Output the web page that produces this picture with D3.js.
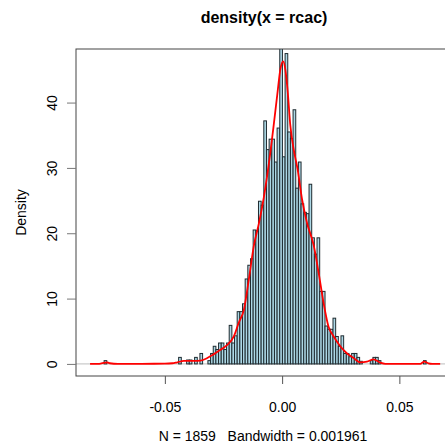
<!DOCTYPE html>
<html>
<head>
<meta charset="utf-8">
<script src="https://cdn.jsdelivr.net/npm/d3@7"></script>
<style>
  body { margin: 0; background: #fff; }
  svg { display: block; }
</style>
</head>
<body>
<div id="vis"></div>
<script>
// histogram: first break and bin width (from the picture), densities per bin
const BREAK_START = -0.07591;
const BIN_WIDTH = 0.001135;
const histDensity = [
  0.5, 0, 0, 0, 0, 0, 0, 0, 0, 0,
  0, 0, 0, 0, 0, 0, 0, 0, 0, 0,
  0, 0, 0, 0, 0, 0, 0, 0, 1.0, 0,
  0, 0.6, 0.6, 0, 1.0, 0, 1.6, 0, 0, 0.5,
  1.6, 2.7, 2.2, 3.2, 3.2, 2.2, 3.2, 5.9, 3.2, 4.3,
  8.0, 8.0, 9.2, 13.0, 15.1, 16.1, 20.5, 20.4, 24.9, 24.3,
  37.2, 32.8, 34.4, 34.4, 30.9, 36.1, 49.5, 31.7, 47.5, 35.5,
  34.5, 38.9, 26.9, 30.9, 24.5, 23.2, 23.0, 27.5, 19.3, 16.8,
  19.3, 11.1, 11.1, 5.8, 5.3, 5.3, 7.0, 4.2, 2.7, 4.3,
  1.6, 1.6, 1.1, 1.6, 1.6, 1.0, 0.4, 0, 0, 0,
  0.5, 1.0, 1.0, 0.5, 0, 0, 0, 0, 0, 0,
  0, 0, 0, 0, 0, 0, 0, 0, 0, 0,
  0.5
];

// density curve
const densX = [-0.0819, -0.078, -0.0755, -0.0745, -0.0735, -0.070, -0.060, -0.050, -0.0468, -0.0447,
  -0.0419, -0.0376, -0.0348, -0.0319, -0.0291, -0.0263, -0.0234, -0.0206, -0.0185, -0.0163,
  -0.0142, -0.0121, -0.0099, -0.0078, -0.005, -0.0036, -0.0021, -0.0007, 0.0004, 0.0014,
  0.0024, 0.0035, 0.0049, 0.0066, 0.0085, 0.0106, 0.0135, 0.0156, 0.0177, 0.0198,
  0.022, 0.0248, 0.0277, 0.0305, 0.0333, 0.0362, 0.039, 0.0418, 0.044, 0.050,
  0.0589, 0.0606, 0.0624, 0.064, 0.0674];
const densY = [0, 0.02, 0.2, 0.22, 0.1, 0.02, 0.02, 0.03, 0.1, 0.25,
  0.45, 0.45, 0.5, 0.9, 1.5, 2.15, 2.9, 4.2, 6.3, 8.3,
  12.9, 18.0, 21.5, 25.5, 32.4, 36.5, 41.1, 45.2, 46.3, 45.0,
  41.6, 36.5, 32.9, 29.8, 25.2, 21.6, 18.1, 13.9, 9.3, 5.7,
  4.2, 2.7, 1.6, 0.9, 0.25, 0.35, 0.7, 0.2, 0.02, 0.02,
  0.02, 0.35, 0.1, 0.02, 0];

const xTicks = [-0.05, 0.00, 0.05];
const yTicks = [0, 10, 20, 30, 40];
const xLim = [-0.0879, 0.0733];
const yLim = [-1.85, 48.2];

const titleText = "density(x = rcac)";
const xLabel = "N = 1859   Bandwidth = 0.001961";
const yLabel = "Density";

const W = 445, H = 445;
const box = { left: 76, right: 454, top: 49, bottom: 376 };
const FONT = "'Liberation Sans', Arial, Helvetica, sans-serif";

const svg = d3.select("#vis").append("svg")
    .attr("width", W)
    .attr("height", H);

const x = d3.scaleLinear().domain(xLim).range([box.left, box.right]);
const y = d3.scaleLinear().domain(yLim).range([box.bottom, box.top]);

svg.append("clipPath").attr("id", "plotclip")
  .append("rect")
    .attr("x", box.left).attr("y", box.top)
    .attr("width", box.right - box.left).attr("height", box.bottom - box.top);

const plot = svg.append("g").attr("clip-path", "url(#plotclip)");

// zero line
plot.append("line")
    .attr("x1", box.left).attr("x2", box.right)
    .attr("y1", y(0)).attr("y2", y(0))
    .attr("stroke", "#bebebe")
    .attr("stroke-width", 1);

// histogram bars
const bins = histDensity.map((d, i) => ({
  x0: BREAK_START + i * BIN_WIDTH,
  x1: BREAK_START + (i + 1) * BIN_WIDTH,
  d: d
})).filter(b => b.d > 0);

plot.selectAll("rect.bar")
  .data(bins)
  .enter().append("rect")
    .attr("class", "bar")
    .attr("x", b => x(b.x0))
    .attr("width", b => x(b.x1) - x(b.x0))
    .attr("y", b => y(b.d))
    .attr("height", b => y(0) - y(b.d))
    .attr("fill", "#add8e6")
    .attr("stroke", "#1f2b30")
    .attr("stroke-width", 1);

// density curve
const pts = densX.map((v, i) => [v, densY[i]]);
plot.append("path")
    .datum(pts)
    .attr("fill", "none")
    .attr("stroke", "red")
    .attr("stroke-width", 1.8)
    .attr("d", d3.line()
      .x(d => x(d[0]))
      .y(d => y(d[1]))
      .curve(d3.curveMonotoneX));

// box
svg.append("rect")
    .attr("x", box.left).attr("y", box.top)
    .attr("width", box.right - box.left).attr("height", box.bottom - box.top)
    .attr("fill", "none")
    .attr("stroke", "#444")
    .attr("stroke-width", 1);

// x axis
const gx = svg.append("g")
    .attr("transform", `translate(0, ${box.bottom})`)
    .call(d3.axisBottom(x).tickValues(xTicks).tickSize(8).tickPadding(18)
      .tickFormat(d => d.toFixed(2)));
gx.select(".domain").remove();
gx.selectAll(".tick line").attr("stroke", "#555");
gx.selectAll(".tick text")
    .attr("fill", "#000")
    .style("font-family", FONT)
    .style("font-size", "14px");

// y axis
const gy = svg.append("g")
    .attr("transform", `translate(${box.left}, 0)`)
    .call(d3.axisLeft(y).tickValues(yTicks).tickSize(9).tickFormat(d3.format("d")));
gy.select(".domain").remove();
gy.selectAll(".tick line").attr("stroke", "#777");
gy.selectAll(".tick text")
    .attr("x", null).attr("dy", null)
    .attr("transform", "translate(-19, 0) rotate(-90)")
    .attr("text-anchor", "middle")
    .attr("fill", "#000")
    .style("font-family", FONT)
    .style("font-size", "14px");

// title
svg.append("text")
    .attr("x", 264).attr("y", 23)
    .attr("text-anchor", "middle")
    .style("font-family", FONT)
    .style("font-size", "16px")
    .style("font-weight", "bold")
    .text(titleText);

// x label
svg.append("text")
    .attr("x", 263).attr("y", 441)
    .attr("text-anchor", "middle")
    .style("font-family", FONT)
    .style("font-size", "14px")
    .style("white-space", "pre")
    .text(xLabel);

// y label
svg.append("text")
    .attr("transform", `translate(25.5, ${(box.top + box.bottom) / 2}) rotate(-90)`)
    .attr("text-anchor", "middle")
    .style("font-family", FONT)
    .style("font-size", "14px")
    .text(yLabel);
</script>
</body>
</html>
